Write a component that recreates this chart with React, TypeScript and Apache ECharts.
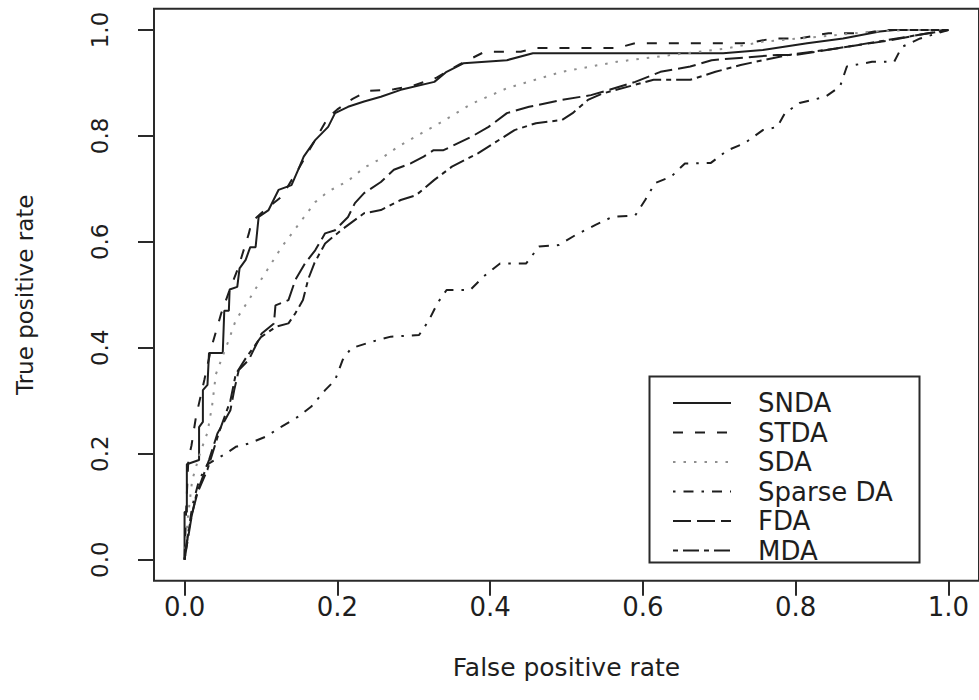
import React, { useEffect, useRef } from "react";
import * as echarts from "echarts";

// ---- data (FPR, TPR) ----
const SNDA: [number, number][] = [
  [0, 0], [0, 0.09], [0.003, 0.09], [0.003, 0.18], [0.019, 0.188], [0.019, 0.25], [0.024, 0.26],
  [0.024, 0.32], [0.03, 0.33], [0.032, 0.39], [0.05, 0.39], [0.052, 0.47], [0.058, 0.47],
  [0.059, 0.51], [0.069, 0.515], [0.072, 0.55], [0.08, 0.566], [0.086, 0.59], [0.093, 0.59],
  [0.097, 0.647], [0.11, 0.66], [0.123, 0.698], [0.14, 0.707], [0.15, 0.74], [0.156, 0.761],
  [0.171, 0.792], [0.188, 0.817], [0.197, 0.843], [0.214, 0.855], [0.235, 0.865], [0.257, 0.874],
  [0.283, 0.887], [0.327, 0.902], [0.343, 0.921], [0.365, 0.937], [0.422, 0.943], [0.456, 0.956],
  [0.705, 0.956], [0.757, 0.962], [0.815, 0.975], [0.862, 0.984], [0.91, 0.997], [0.93, 1], [1, 1],
];
const STDA: [number, number][] = [
  [0, 0], [0.002, 0.09], [0.005, 0.19], [0.009, 0.215], [0.015, 0.27], [0.026, 0.34], [0.035, 0.4],
  [0.048, 0.465], [0.058, 0.505], [0.07, 0.55], [0.084, 0.615], [0.088, 0.638], [0.105, 0.66],
  [0.127, 0.685], [0.15, 0.74], [0.17, 0.79], [0.188, 0.835], [0.2, 0.85], [0.22, 0.87],
  [0.24, 0.885], [0.274, 0.888], [0.3, 0.895], [0.33, 0.91], [0.36, 0.935], [0.393, 0.959],
  [0.44, 0.959], [0.46, 0.966], [0.566, 0.966], [0.59, 0.975], [0.73, 0.975], [0.748, 0.978],
  [0.77, 0.984], [0.805, 0.984], [0.843, 0.994], [0.89, 0.994], [0.915, 1], [1, 1],
];
const SDA: [number, number][] = [
  [0, 0], [0.004, 0.075], [0.01, 0.15], [0.02, 0.2], [0.03, 0.24], [0.036, 0.29], [0.041, 0.35],
  [0.058, 0.415], [0.067, 0.452], [0.084, 0.49], [0.1, 0.528], [0.127, 0.59], [0.153, 0.64],
  [0.171, 0.675], [0.188, 0.695], [0.214, 0.715], [0.235, 0.74], [0.257, 0.757], [0.28, 0.78],
  [0.31, 0.805], [0.335, 0.825], [0.375, 0.86], [0.422, 0.89], [0.494, 0.921], [0.566, 0.94],
  [0.638, 0.953], [0.709, 0.965], [0.757, 0.978], [0.829, 0.987], [0.9, 0.997], [0.95, 1], [1, 1],
];
const SPARSE_DA: [number, number][] = [
  [0, 0], [0.002, 0.024], [0.01, 0.1], [0.019, 0.15], [0.03, 0.18], [0.054, 0.2], [0.067, 0.213],
  [0.084, 0.219], [0.106, 0.232], [0.127, 0.251], [0.149, 0.27], [0.166, 0.289], [0.184, 0.32],
  [0.197, 0.339], [0.207, 0.377], [0.218, 0.399], [0.244, 0.411], [0.27, 0.421], [0.307, 0.424],
  [0.32, 0.452], [0.331, 0.484], [0.343, 0.509], [0.374, 0.509], [0.391, 0.534], [0.413, 0.559],
  [0.447, 0.559], [0.464, 0.591], [0.49, 0.594], [0.512, 0.613], [0.538, 0.632], [0.56, 0.647],
  [0.59, 0.65], [0.603, 0.679], [0.616, 0.711], [0.637, 0.723], [0.655, 0.748], [0.689, 0.749],
  [0.711, 0.773], [0.733, 0.786], [0.757, 0.811], [0.776, 0.817], [0.786, 0.843], [0.805, 0.862],
  [0.839, 0.874], [0.858, 0.893], [0.867, 0.931], [0.9, 0.94], [0.929, 0.94], [0.939, 0.968],
  [0.963, 0.984], [1, 1],
];
const FDA: [number, number][] = [
  [0, 0], [0.01, 0.088], [0.019, 0.137], [0.032, 0.188], [0.043, 0.238], [0.06, 0.282],
  [0.065, 0.32], [0.071, 0.358], [0.084, 0.377], [0.101, 0.427], [0.117, 0.446], [0.119, 0.48],
  [0.136, 0.49], [0.145, 0.528], [0.158, 0.56], [0.171, 0.584], [0.184, 0.616], [0.197, 0.622],
  [0.214, 0.647], [0.223, 0.673], [0.235, 0.692], [0.257, 0.713], [0.274, 0.736], [0.296, 0.748],
  [0.313, 0.761], [0.326, 0.773], [0.339, 0.773], [0.375, 0.798], [0.398, 0.817], [0.422, 0.843],
  [0.451, 0.855], [0.494, 0.868], [0.532, 0.877], [0.556, 0.887], [0.59, 0.902], [0.623, 0.921],
  [0.662, 0.931], [0.69, 0.943], [0.776, 0.953], [0.8, 0.953], [0.853, 0.965], [0.925, 0.981],
  [0.973, 0.994], [1, 1],
];
const MDA: [number, number][] = [
  [0, 0], [0.006, 0.06], [0.015, 0.12], [0.03, 0.17], [0.045, 0.24], [0.06, 0.3], [0.067, 0.35],
  [0.08, 0.38], [0.1, 0.42], [0.12, 0.44], [0.136, 0.446], [0.145, 0.465], [0.155, 0.49],
  [0.162, 0.53], [0.17, 0.56], [0.184, 0.597], [0.205, 0.622], [0.235, 0.654], [0.257, 0.66],
  [0.283, 0.679], [0.303, 0.688], [0.327, 0.717], [0.35, 0.742], [0.384, 0.767], [0.432, 0.811],
  [0.46, 0.824], [0.494, 0.83], [0.508, 0.843], [0.528, 0.868], [0.547, 0.88], [0.614, 0.906],
  [0.662, 0.906], [0.695, 0.921], [0.728, 0.934], [0.791, 0.953], [0.853, 0.965], [0.92, 0.981],
  [1, 1],
];

const SERIES_NAMES = ["SNDA", "STDA", "SDA", "Sparse DA", "FDA", "MDA"];
const SERIES_DATA = [SNDA, STDA, SDA, SPARSE_DA, FDA, MDA];

const X_TICKS = [0, 0.2, 0.4, 0.6, 0.8, 1.0];
const X_TICK_LABELS = ["0.0", "0.2", "0.4", "0.6", "0.8", "1.0"];
const Y_TICKS = [0, 0.2, 0.4, 0.6, 0.8, 1.0];
const Y_TICK_LABELS = ["0.0", "0.2", "0.4", "0.6", "0.8", "1.0"];

const X_TITLE = "False positive rate";
const Y_TITLE = "True positive rate";

// ---- styles ----
const FONT = '"DejaVu Sans", "Liberation Sans", sans-serif';
const INK = "#1e1e1e";
const LINE_COLORS = [INK, INK, "#8f8f8f", INK, INK, INK];
const LINE_DASHES: (string | number[])[] = [
  "solid",
  [10, 12],
  [2.5, 8],
  [2.5, 8, 10, 8],
  [18, 6],
  [5, 5, 16, 5],
];

export default function App() {
  const ref = useRef<HTMLDivElement>(null);

  useEffect(() => {
    if (!ref.current) return;
    const chart = echarts.init(ref.current, undefined, { renderer: "svg" });

    const labelFor = (ticks: number[], labels: string[]) => (v: number) => {
      const i = ticks.findIndex((t) => Math.abs(t - v) < 1e-9);
      return i >= 0 ? labels[i] : "";
    };

    chart.setOption({
      animation: false,
      backgroundColor: "#ffffff",
      grid: {
        left: 154,
        top: 8.8,
        width: 833,
        height: 572,
        show: true,
        borderColor: "#2a2a2a",
        borderWidth: 2,
        backgroundColor: "transparent",
        containLabel: false,
      },
      xAxis: {
        type: "value",
        min: -0.04,
        max: 1.04,
        name: X_TITLE,
        nameLocation: "middle",
        nameGap: 74,
        nameTextStyle: { fontFamily: FONT, fontSize: 25, color: INK },
        axisLine: { show: false, onZero: false },
        splitLine: { show: false },
        axisTick: {
          show: true,
          inside: false,
          length: 15,
          customValues: X_TICKS,
          lineStyle: { color: "#2a2a2a", width: 2 },
        },
        axisLabel: {
          customValues: X_TICKS,
          formatter: labelFor(X_TICKS, X_TICK_LABELS),
          margin: 13,
          fontFamily: FONT,
          fontSize: 26,
          color: INK,
        },
      },
      yAxis: {
        type: "value",
        min: -0.04,
        max: 1.04,
        name: Y_TITLE,
        nameLocation: "middle",
        nameGap: 118,
        nameRotate: 90,
        nameTextStyle: { fontFamily: FONT, fontSize: 23, color: INK },
        axisLine: { show: false, onZero: false },
        splitLine: { show: false },
        axisTick: {
          show: true,
          inside: false,
          length: 16,
          customValues: Y_TICKS,
          lineStyle: { color: "#2a2a2a", width: 2 },
        },
        axisLabel: {
          customValues: Y_TICKS,
          formatter: labelFor(Y_TICKS, Y_TICK_LABELS),
          rotate: 90,
          margin: 43,
          fontFamily: FONT,
          fontSize: 23,
          color: INK,
        },
      },
      legend: {
        data: SERIES_NAMES,
        orient: "vertical",
        left: 672,
        top: 390,
        itemWidth: 58,
        itemHeight: 14,
        itemGap: 3.5,
        padding: 0,
        selectedMode: false,
        itemStyle: { opacity: 0 },
        textStyle: {
          fontFamily: FONT,
          fontSize: 26,
          lineHeight: 26,
          color: INK,
          padding: [0, 0, 0, 22],
        },
      },
      graphic: [
        {
          type: "rect",
          left: 647,
          top: 374,
          shape: { width: 270, height: 186 },
          style: { fill: "none", stroke: "#2a2a2a", lineWidth: 2 },
          silent: true,
        },
      ],
      series: SERIES_DATA.map((d, i) => ({
        name: SERIES_NAMES[i],
        type: "line",
        data: d,
        symbol: "none",
        showSymbol: false,
        clip: true,
        silent: true,
        lineStyle: { color: LINE_COLORS[i], width: 2, type: LINE_DASHES[i] },
        itemStyle: { color: LINE_COLORS[i] },
        emphasis: { disabled: true },
      })),
    });

    return () => chart.dispose();
  }, []);

  return (
    <div
      ref={ref}
      style={{ position: "fixed", left: 0, top: 0, width: 979, height: 700, background: "#fff" }}
    />
  );
}
